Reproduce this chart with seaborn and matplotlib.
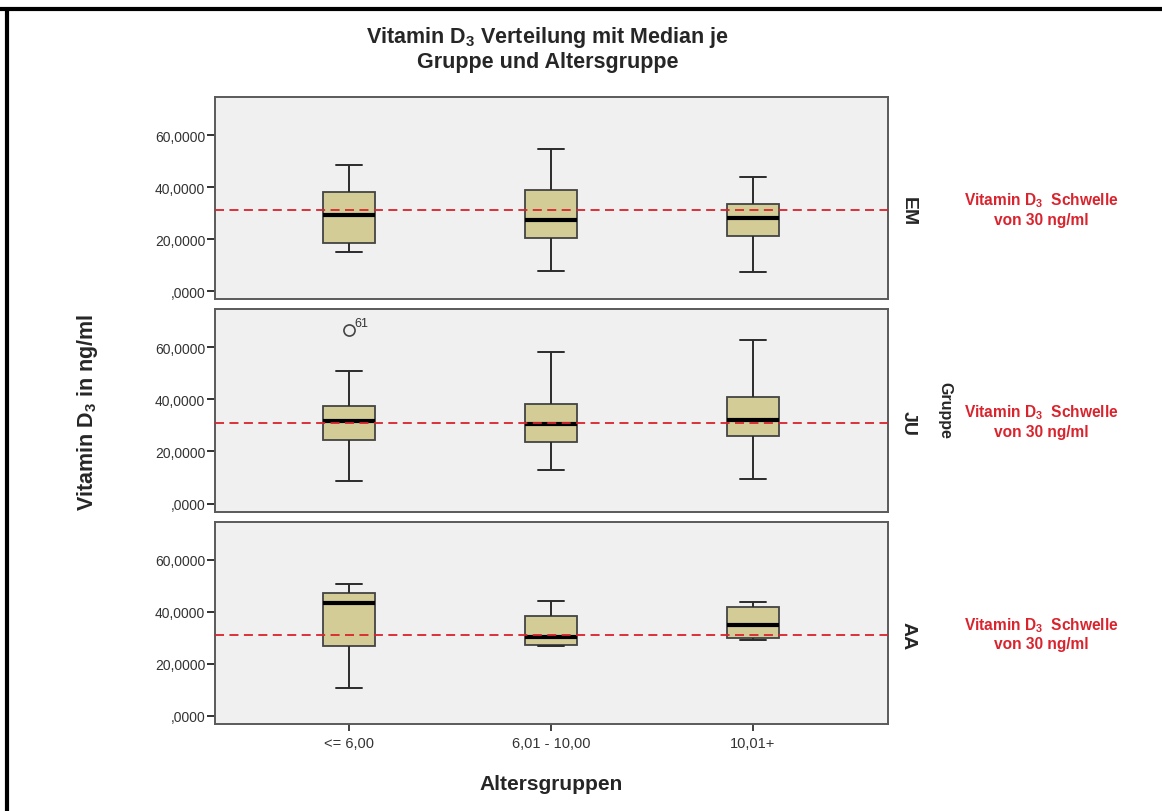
import numpy as np
import pandas as pd
import matplotlib
matplotlib.use("Agg")
from matplotlib import pyplot as plt
from matplotlib.lines import Line2D
import seaborn as sns

# values (ng/ml)
gruppen = ["EM", "JU", "AA"]
altersgruppen = ["<= 6,00", "6,01 - 10,00", "10,01+"]

# five-number summaries per Gruppe, one entry per Altersgruppe
whisker_low = {"EM": [15.0, 7.7, 7.2], "JU": [8.6, 13.0, 9.5], "AA": [10.8, 26.7, 29.0]}
quartile_1 = {"EM": [18.5, 20.3, 21.2], "JU": [24.4, 23.6, 26.1], "AA": [26.7, 27.4, 29.8]}
medians = {"EM": [29.2, 27.3, 28.2], "JU": [31.7, 30.6, 32.2], "AA": [43.2, 30.5, 34.9]}
quartile_3 = {"EM": [38.2, 39.0, 33.6], "JU": [37.4, 38.1, 41.1], "AA": [47.2, 38.2, 41.8]}
whisker_high = {"EM": [48.5, 54.5, 43.9], "JU": [51.0, 58.2, 62.7], "AA": [50.7, 44.1, 43.7]}

# single outlier (case 61)
outlier_gruppe = "JU"
outlier_alter = "<= 6,00"
outlier_value = 66.7
outlier_case = "61"

threshold_line = 31.0
y_ticks = [0, 20, 40, 60]

rows = []
for g in gruppen:
    for i, a in enumerate(altersgruppen):
        for v in (whisker_low[g][i], quartile_1[g][i], medians[g][i],
                  quartile_3[g][i], whisker_high[g][i]):
            rows.append({"Gruppe": g, "Altersgruppen": a, "VitD": v})
df = pd.DataFrame(rows)

sns.set_theme(style="white")
plt.rcParams["font.family"] = ["Liberation Sans Narrow", "Liberation Sans", "DejaVu Sans"]
plt.rcParams["mathtext.fontset"] = "custom"
plt.rcParams["mathtext.rm"] = "Liberation Sans"
plt.rcParams["mathtext.bf"] = "Liberation Sans:bold"

fig, axs = plt.subplots(3, 1, figsize=(11.62, 8.12), dpi=100, sharex=True)
fig.subplots_adjust(left=215 / 1162, right=888 / 1162, top=1 - 98 / 812,
                    bottom=1 - 725 / 812, hspace=0.05)

box_color = "#d3cc97"
edge = "#2b2b2b"
red = "#d9232d"
sans = ["Liberation Sans", "DejaVu Sans"]

for ax, g in zip(axs, gruppen):
    sns.boxplot(
        data=df[df["Gruppe"] == g], x="Altersgruppen", y="VitD",
        order=altersgruppen, ax=ax, color=box_color, linecolor=edge,
        width=0.26, whis=(0, 100), linewidth=1.4, saturation=1,
        medianprops={"color": "black", "linewidth": 3},
        boxprops={"edgecolor": "#444444", "linewidth": 1.3},
    )
    ax.axhline(threshold_line, color=red, ls="--", lw=1.3, dashes=(5, 3), zorder=5)
    ax.set_facecolor("#f0f0f0")
    ax.set_xlim(-0.663, 2.668)
    ax.set_ylim(-3.1, 74.6)
    ax.set_yticks(y_ticks)
    ax.set_yticklabels([f"{v:.4f}".replace(".", ",").lstrip("0") for v in y_ticks],
                       family=sans, fontsize=10, color="#333333")
    ax.tick_params(axis="y", left=True, length=6, width=1.4, color="#333333", pad=1)
    ax.set_xlabel("")
    ax.set_ylabel("")
    for s in ax.spines.values():
        s.set_color("#5a5a5a")
        s.set_linewidth(1.4)
    ax.text(1.03, (threshold_line + 3.1) / 77.7, g, transform=ax.transAxes,
            rotation=-90, ha="center", va="center", fontsize=14,
            fontweight="bold", family=sans)
    ax.text(1.228, (threshold_line + 3.1) / 77.7 + 0.01,
            "Vitamin D$_\\mathbf{3}$  Schwelle\nvon 30 ng/ml",
            transform=ax.transAxes, ha="center", va="center", fontsize=11.2,
            fontweight="bold", color=red, family=sans, linespacing=1.2)
    if g == outlier_gruppe:
        xo = altersgruppen.index(outlier_alter)
        ax.plot([xo], [outlier_value], marker="o", ms=8, mfc="none",
                mec="#444444", mew=1.2, ls="none")
        ax.annotate(outlier_case, (xo, outlier_value), xytext=(4, 3),
                    textcoords="offset points", fontsize=9, family=sans,
                    color="#333333")

axs[-1].tick_params(axis="x", bottom=True, length=5, width=1.3, color="#333333", pad=4)
axs[-1].set_xticklabels(altersgruppen, family=sans, fontsize=10.5, color="#333333")
for ax in axs[:-1]:
    ax.tick_params(axis="x", bottom=False)

fig.text(0.471, 1 - 49 / 812, "Vitamin D$_\\mathbf{3}$ Verteilung mit Median je\nGruppe und Altersgruppe",
         ha="center", va="center", fontsize=15.5, fontweight="bold", linespacing=1.15)
fig.text(88 / 1162, 1 - 412 / 812, "Vitamin D$_\\mathbf{3}$ in ng/ml", rotation=90,
         ha="center", va="center", fontsize=15.5, fontweight="bold", family=sans)
fig.text(551 / 1162, 1 - 785 / 812, "Altersgruppen", ha="center", va="center",
         fontsize=15, fontweight="bold", family=sans)
fig.text(945 / 1162, 1 - 410 / 812, "Gruppe", rotation=-90, ha="center", va="center",
         fontsize=11.5, fontweight="bold", family=sans)

# black frame at top and left edge of the picture
fig.add_artist(Line2D([0.0, 1.0], [1 - 10 / 812, 1 - 10 / 812], color="black", lw=3,
                      transform=fig.transFigure))
fig.add_artist(Line2D([6.5 / 1162, 6.5 / 1162], [0.0, 1 - 10 / 812], color="black", lw=3,
                      transform=fig.transFigure))

fig.savefig("out.png", dpi=100, facecolor="white")
